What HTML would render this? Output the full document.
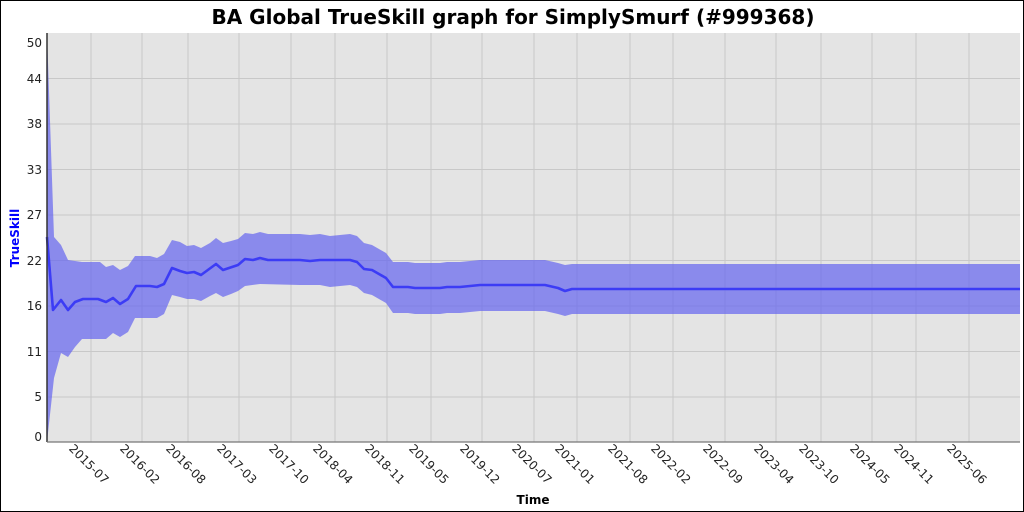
<!DOCTYPE html>
<html><head><meta charset="utf-8"><style>
html,body{margin:0;padding:0;background:#fff}
svg{display:block}
text{font-family:"DejaVu Sans","Liberation Sans",sans-serif}
</style></head><body>
<svg width="1024" height="512" viewBox="0 0 1024 512" xmlns="http://www.w3.org/2000/svg">
<rect x="0.5" y="0.5" width="1023" height="511" fill="#fff" stroke="#000"/>
<text x="513" y="24" text-anchor="middle" font-size="20" font-weight="bold">BA Global TrueSkill graph for SimplySmurf (#999368)</text>
<rect x="47" y="33" width="973" height="409" fill="#e4e4e4"/>
<g stroke="#c8c8c8" stroke-width="1">
<line x1="47" x2="1020" y1="78.5" y2="78.5"/><line x1="47" x2="1020" y1="124" y2="124"/><line x1="47" x2="1020" y1="169.5" y2="169.5"/><line x1="47" x2="1020" y1="215" y2="215"/><line x1="47" x2="1020" y1="260.5" y2="260.5"/><line x1="47" x2="1020" y1="306" y2="306"/><line x1="47" x2="1020" y1="351.5" y2="351.5"/><line x1="47" x2="1020" y1="397" y2="397"/>
<line y1="33" y2="442" x1="91" x2="91"/><line y1="33" y2="442" x1="142" x2="142"/><line y1="33" y2="442" x1="188" x2="188"/><line y1="33" y2="442" x1="239" x2="239"/><line y1="33" y2="442" x1="291" x2="291"/><line y1="33" y2="442" x1="335" x2="335"/><line y1="33" y2="442" x1="387" x2="387"/><line y1="33" y2="442" x1="431" x2="431"/><line y1="33" y2="442" x1="482" x2="482"/><line y1="33" y2="442" x1="534" x2="534"/><line y1="33" y2="442" x1="577" x2="577"/><line y1="33" y2="442" x1="630" x2="630"/><line y1="33" y2="442" x1="673" x2="673"/><line y1="33" y2="442" x1="725" x2="725"/><line y1="33" y2="442" x1="776" x2="776"/><line y1="33" y2="442" x1="821" x2="821"/><line y1="33" y2="442" x1="872" x2="872"/><line y1="33" y2="442" x1="916" x2="916"/><line y1="33" y2="442" x1="969" x2="969"/>
</g>
<polygon fill="#6464f0" fill-opacity="0.7" points="47,33 54,237 61,245 68,260 75,261 82,262 100,262 106,267 113,265 120,270 128,266 135,256 150,256 157,258 164,254 172,240 180,242 187,246 194,245 201,248 210,243 216,238 223,243 231,241 238,239 245,233 253,234 260,232 268,234 300,234 310,235 320,234 330,236 350,234 357,236 364,243 372,245 386,253 393,262 408,262 415,263 440,263 447,262 460,262 480,260 545,260 558,263 565,265 572,264 600,264 1020,264 1020,314 600,314 572,314 565,316 558,314 545,311 480,311 460,313 447,313 440,314 415,314 408,313 393,313 386,303 372,295 364,293 357,287 350,285 330,287 320,285 300,285 260,284 245,286 238,291 231,294 223,297 216,293 210,296 201,301 194,299 187,299 180,297 172,295 164,314 157,318 150,318 135,318 128,332 120,337 113,333 106,339 100,339 82,339 75,347 68,357 61,353 54,378 47,442"/>
<polyline fill="none" stroke="#3c3cf5" stroke-width="2.6" stroke-linejoin="round" points="47,237 53,310 61,300 68,310 75,302 83,299 98,299 106,302 113,298 120,304 128,299 136,286 150,286 157,287 164,284 172,268 180,271 187,273 194,272 201,275 216,264 223,270 238,265 245,259 253,260 260,258 268,260 300,260 310,261 320,260 334,260 350,260 357,262 364,269 372,270 386,278 393,287 408,287 415,288 440,288 447,287 460,287 480,285 545,285 558,288 565,291 572,289 600,289 1020,289"/>
<line x1="47" x2="47" y1="33" y2="442" stroke="#333" stroke-width="1.5"/>
<line x1="47" x2="1020" y1="442" y2="442" stroke="#777" stroke-width="1.2"/>
<g font-size="12" text-anchor="end" fill="#222">
<text x="42" y="47">50</text><text x="42" y="83">44</text><text x="42" y="128">38</text><text x="42" y="174">33</text><text x="42" y="219">27</text><text x="42" y="265">22</text><text x="42" y="310">16</text><text x="42" y="356">11</text><text x="42" y="401">5</text><text x="42" y="441">0</text>
</g>
<g font-size="12" fill="#222" text-anchor="middle">
<text transform="translate(86,467) rotate(45)">2015-07</text>
<text transform="translate(137,467) rotate(45)">2016-02</text>
<text transform="translate(183,467) rotate(45)">2016-08</text>
<text transform="translate(234,467) rotate(45)">2017-03</text>
<text transform="translate(286,467) rotate(45)">2017-10</text>
<text transform="translate(330,467) rotate(45)">2018-04</text>
<text transform="translate(382,467) rotate(45)">2018-11</text>
<text transform="translate(426,467) rotate(45)">2019-05</text>
<text transform="translate(477,467) rotate(45)">2019-12</text>
<text transform="translate(529,467) rotate(45)">2020-07</text>
<text transform="translate(572,467) rotate(45)">2021-01</text>
<text transform="translate(625,467) rotate(45)">2021-08</text>
<text transform="translate(668,467) rotate(45)">2022-02</text>
<text transform="translate(720,467) rotate(45)">2022-09</text>
<text transform="translate(771,467) rotate(45)">2023-04</text>
<text transform="translate(816,467) rotate(45)">2023-10</text>
<text transform="translate(867,467) rotate(45)">2024-05</text>
<text transform="translate(911,467) rotate(45)">2024-11</text>
<text transform="translate(964,467) rotate(45)">2025-06</text>
</g>
<text x="533" y="504" text-anchor="middle" font-size="12" font-weight="bold">Time</text>
<text transform="translate(19,238) rotate(-90)" text-anchor="middle" font-size="12" font-weight="bold" fill="#0000ff">TrueSkill</text>
</svg>
</body></html>
